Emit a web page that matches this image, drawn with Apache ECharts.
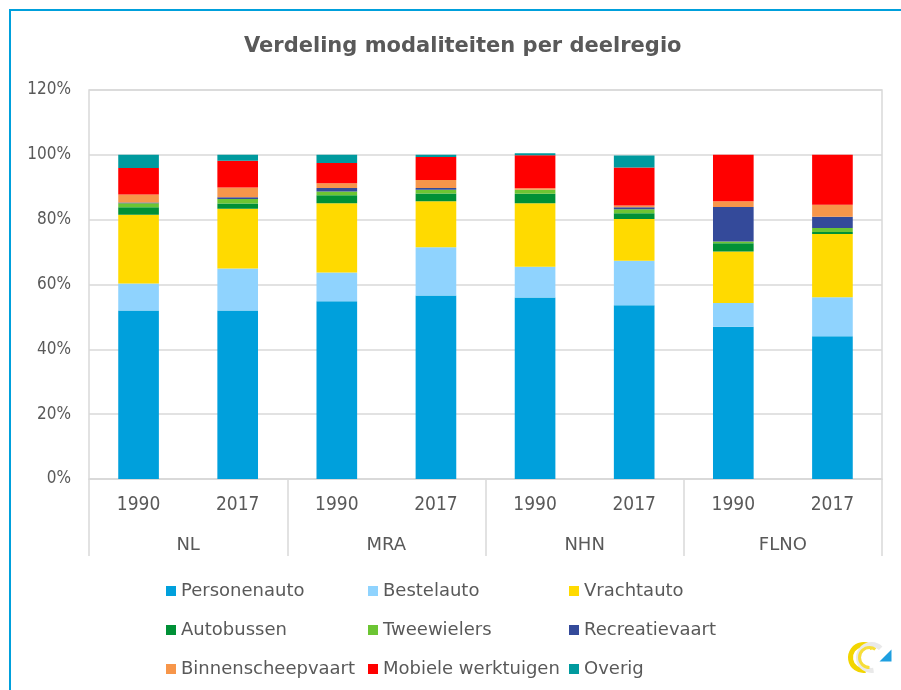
<!DOCTYPE html>
<html>
<head>
<meta charset="utf-8">
<script src="https://cdn.jsdelivr.net/npm/echarts@6/dist/echarts.min.js"></script>
<style>html,body{margin:0;padding:0;background:#fff}#c{width:901px;height:690px}</style>
</head>
<body>
<div id="c"></div>
<script>
const years = ['1990','2017','1990','2017','1990','2017','1990','2017'];
const regions = ['NL','MRA','NHN','FLNO'];
const yTicks = [0,20,40,60,80,100,120];
const seriesNames = ['Personenauto','Bestelauto','Vrachtauto','Autobussen','Tweewielers','Recreatievaart','Binnenscheepvaart','Mobiele werktuigen','Overig'];
const personenauto      = [52.0, 52.0, 54.8, 56.6, 56.0, 53.6, 47.0, 44.0];
const bestelauto        = [ 8.3, 12.9,  8.9, 14.9,  9.5, 13.7,  7.3, 12.1];
const vrachtauto        = [21.2, 18.5, 21.4, 14.2, 19.6, 12.9, 15.9, 19.5];
const autobussen        = [ 2.3,  1.6,  2.4,  2.4,  2.9,  1.8,  2.5,  0.6];
const tweewielers       = [ 1.3,  1.4,  1.2,  1.1,  1.2,  1.2,  0.6,  1.2];
const recreatievaart    = [ 0.2,  0.5,  1.1,  0.6,  0.0,  0.6, 10.6,  3.5];
const binnenscheepvaart = [ 2.5,  3.0,  1.4,  2.4,  0.5,  0.6,  1.8,  3.7];
const mobieleWerktuigen = [ 8.1,  8.3,  6.3,  7.1, 10.2, 11.7, 14.3, 15.4];
const overig            = [ 4.1,  1.8,  2.5,  0.7,  0.6,  3.7,  0.0,  0.0];
const allValues = [personenauto,bestelauto,vrachtauto,autobussen,tweewielers,recreatievaart,binnenscheepvaart,mobieleWerktuigen,overig];
const colors = ['#00a0dc','#8fd3fe','#ffda00','#009036','#6cc533','#344a9a','#f7964a','#ff0000','#009a9e'];

const txt = '#595959';
const grey = '#d9d9d9';
const font = 'DejaVu Sans';
const fontC = 'DejaVu Sans Condensed';

const chart = echarts.init(document.getElementById('c'), null, {renderer:'canvas'});
const legendCols = [[0,3,6],[1,4,7],[2,5,8]];
const legendLeft = [161, 363, 564];
chart.setOption({
  animation: false,
  textStyle: {fontFamily: font},
  title: {
    text: 'Verdeling modaliteiten per deelregio',
    left: 239, top: 31,
    textStyle: {fontFamily: font, fontSize: 21, fontWeight: 'bold', color: txt}
  },
  grid: {left: 89, right: 19, top: 90, bottom: 211, show: true, borderColor: grey, borderWidth: 1.5, backgroundColor: 'transparent'},
  xAxis: [
    {type: 'category', data: years, position: 'bottom',
     axisLine: {show: true, lineStyle: {color: grey, width: 1.5}},
     axisTick: {show: false},
     axisLabel: {margin: 17, fontSize: 19, color: txt, fontFamily: fontC, interval: 0}},
    {type: 'category', data: regions, position: 'bottom',
     axisLine: {show: false},
     axisTick: {show: true, length: 77, lineStyle: {color: grey, width: 1.5}, interval: 0},
     axisLabel: {margin: 57, fontSize: 18, color: txt, fontFamily: font, interval: 0}}
  ],
  yAxis: {
    type: 'value', min: yTicks[0], max: yTicks[yTicks.length-1], interval: 20,
    axisLine: {show: false}, axisTick: {show: false},
    splitLine: {lineStyle: {color: grey, width: 1.5}},
    axisLabel: {formatter: '{value}%', margin: 18, fontSize: 17, color: txt, fontFamily: fontC}
  },
  legend: legendCols.map((col, i) => ({
    data: col.map(k => seriesNames[k]),
    orient: 'vertical', left: legendLeft[i], top: 576,
    itemWidth: 10, itemHeight: 10, itemGap: 19, icon: 'rect',
    selectedMode: false,
    textStyle: {fontSize: 18, color: txt, fontFamily: font, lineHeight: 20}
  })),
  series: seriesNames.map((n, i) => ({
    name: n, type: 'bar', stack: 'total', xAxisIndex: 0,
    barWidth: '41%', data: allValues[i],
    itemStyle: {color: colors[i]}
  })),
  graphic: [
    {type: 'rect', shape: {x: 10, y: 10, width: 900, height: 700}, style: {fill: null, stroke: '#00a0dc', lineWidth: 2}, silent: true},
    {type: 'group', left: 848, top: 642, children: [
      {type: 'arc', shape: {cx: 12, cy: 20, r: 13, startAngle: Math.PI*0.45, endAngle: Math.PI*1.75}, style: {stroke: '#f2d500', lineWidth: 5, fill: null}},
      {type: 'arc', shape: {cx: 20, cy: 20, r: 13, startAngle: Math.PI*0.45, endAngle: Math.PI*1.75}, style: {stroke: '#e9e9e9', lineWidth: 5, fill: null}},
      {type: 'arc', shape: {cx: 18, cy: 20, r: 10, startAngle: Math.PI*0.5, endAngle: Math.PI*1.7}, style: {stroke: '#f7de3a', lineWidth: 3, fill: null}},
      {type: 'polygon', shape: {points: [[28,24],[40,24],[40,12]]}, style: {fill: '#1e9fe0'}}
    ]}
  ]
});
</script>
</body>
</html>
